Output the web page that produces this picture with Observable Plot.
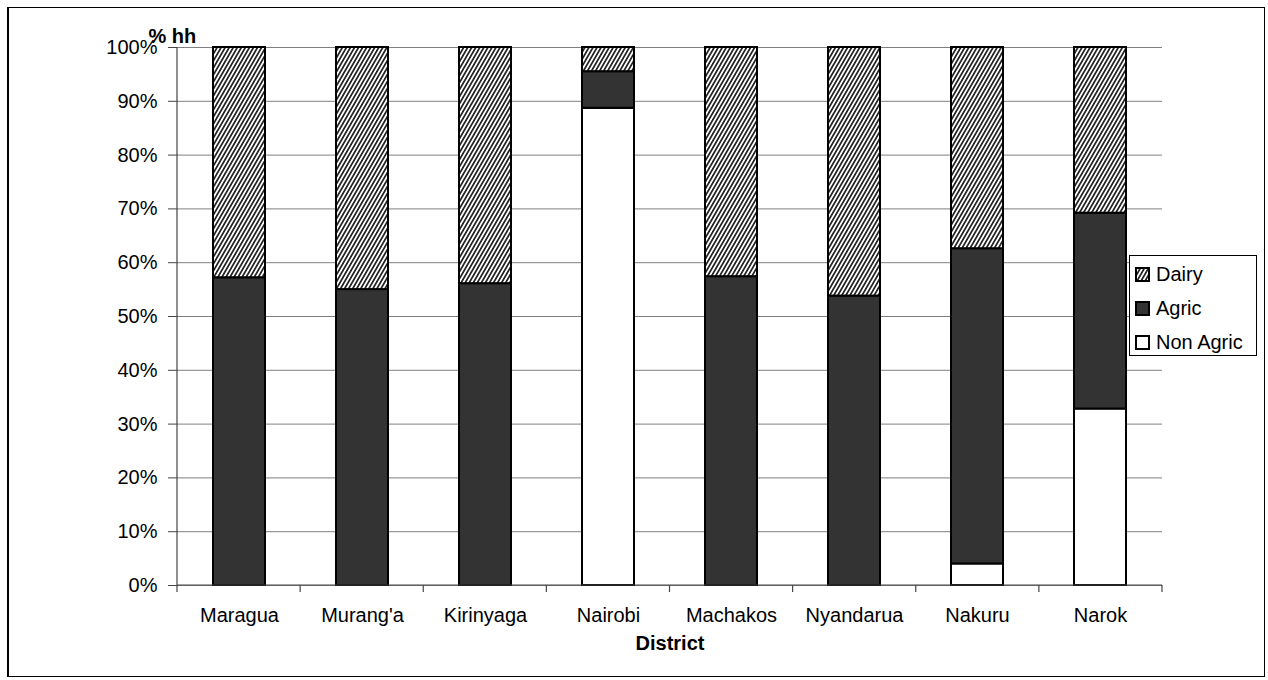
<!DOCTYPE html>
<html>
<head>
<meta charset="utf-8">
<script src="https://cdn.jsdelivr.net/npm/d3@7"></script>
<script src="https://cdn.jsdelivr.net/npm/@observablehq/plot@0.6"></script>
<style>
  html, body { margin: 0; padding: 0; background: #fff; }
  #wrap { position: relative; width: 1268px; height: 680px; font-family: "Liberation Sans", Arial, sans-serif; }
  #border { position: absolute; left: 7px; top: 7px; width: 1258px; height: 670px; border: 1px solid #000; border-left-width: 2px; box-sizing: border-box; pointer-events: none; }
  #legend { position: absolute; left: 1129px; top: 255px; width: 128px; height: 101px; border: 1px solid #000; background: #fff; box-sizing: border-box; }
  .item { position: absolute; left: 5px; height: 24px; display: flex; align-items: center; font-size: 20px; color: #000; }
  .item svg { margin-right: 6px; }
</style>
</head>
<body>
<div id="wrap">
  <div id="chart"></div>
  <div id="border"></div>
  <div id="legend"></div>
</div>
<script>
const districts = ["Maragua", "Murang'a", "Kirinyaga", "Nairobi", "Machakos", "Nyandarua", "Nakuru", "Narok"];
const seriesNames = ["Non Agric", "Agric", "Dairy"];
const nonAgric = [0, 0, 0, 88.7, 0, 0, 4.0, 32.8];
const agric    = [57.2, 55.0, 56.1, 6.8, 57.4, 53.8, 58.6, 36.4];
const dairy    = [42.8, 45.0, 43.9, 4.5, 42.6, 46.2, 37.4, 30.8];
const yTicks = [0, 10, 20, 30, 40, 50, 60, 70, 80, 90, 100];
const legendOrder = ["Dairy", "Agric", "Non Agric"];

const seriesValues = {"Non Agric": nonAgric, "Agric": agric, "Dairy": dairy};
const data = districts.flatMap((d, i) => seriesNames.map(s => ({district: d, series: s, value: seriesValues[s][i]})));

const fills = {"Non Agric": "#ffffff", "Agric": "#333333", "Dairy": "url(#hatch)"};

function frameLines(index, scales, values, dims) {
  const {width, height, marginLeft, marginRight, marginTop, marginBottom} = dims;
  const x0 = marginLeft, x1 = width - marginRight, y0 = marginTop, y1 = height - marginBottom;
  const n = districts.length, s = (x1 - x0) / n;
  const g = d3.create("svg:g").attr("stroke", "#444").attr("stroke-width", 1.2);
  g.append("line").attr("x1", x0).attr("x2", x0).attr("y1", y0).attr("y2", y1);
  g.append("line").attr("x1", x0).attr("x2", x1).attr("y1", y1).attr("y2", y1);
  for (let i = 0; i <= n; i++) {
    g.append("line").attr("x1", x0 + i * s).attr("x2", x0 + i * s).attr("y1", y1).attr("y2", y1 + 7);
  }
  return g.node();
}

const chart = Plot.plot({
  width: 1268,
  height: 680,
  marginLeft: 177,
  marginRight: 106,
  marginTop: 47,
  marginBottom: 95,
  style: {fontFamily: "'Liberation Sans', Arial, sans-serif", fontSize: "20px", background: "transparent", color: "#000"},
  x: {domain: districts, paddingInner: 0.58, paddingOuter: 0.29, label: null},
  y: {domain: [0, 100], label: null},
  color: {domain: seriesNames, range: seriesNames.map(s => fills[s])},
  marks: [
    Plot.gridY(yTicks, {stroke: "#808080", strokeOpacity: 1, strokeWidth: 1}),
    Plot.axisY(yTicks, {tickSize: 9, tickPadding: 11, tickFormat: d => d + "%", label: null, stroke: "#444", fontSize: 20}),
    Plot.axisX({tickSize: 0, tickPadding: 22, label: null, fontSize: 20}),
    Plot.barY(data, {x: "district", y: "value", fill: "series", stroke: "#000", strokeWidth: 2}),
    frameLines,
    Plot.text(["% hh"], {frameAnchor: "top-left", textAnchor: "start", dx: -29, dy: -19, fontWeight: "bold", fontSize: 20}),
    Plot.text(["District"], {frameAnchor: "bottom", dy: 64, fontWeight: "bold", fontSize: 20})
  ]
});

const defs = d3.create("svg:defs");
const pat = defs.append("pattern").attr("id", "hatch").attr("patternUnits", "userSpaceOnUse")
  .attr("width", 3.5).attr("height", 8).attr("patternTransform", "rotate(30)");
pat.append("rect").attr("width", 3.5).attr("height", 8).attr("fill", "#fff");
pat.append("line").attr("x1", 1.75).attr("x2", 1.75).attr("y1", 0).attr("y2", 8).attr("stroke", "#000").attr("stroke-width", 1.5);
chart.insertBefore(defs.node(), chart.firstChild);
document.getElementById("chart").appendChild(chart);

const legend = d3.select("#legend");
legendOrder.forEach((s, i) => {
  const item = legend.append("div").attr("class", "item").style("top", (6 + i * 34) + "px");
  const sw = item.append("svg").attr("width", 15).attr("height", 15);
  sw.append("rect").attr("x", 1).attr("y", 1).attr("width", 13).attr("height", 13)
    .attr("fill", fills[s]).attr("stroke", "#000").attr("stroke-width", 2);
  item.append("span").text(s);
});
</script>
</body>
</html>
